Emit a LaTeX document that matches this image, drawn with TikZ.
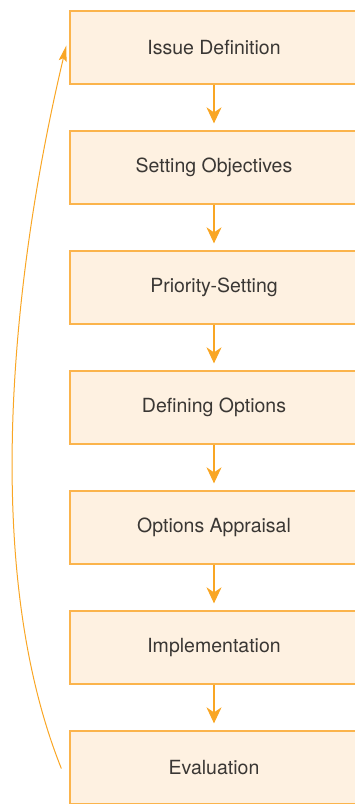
\documentclass[tikz,border=0pt]{standalone}
\usepackage{fontspec}
\setmainfont{TeX Gyre Heros}
\usepackage{tikz}
\usetikzlibrary{positioning,arrows.meta}
\definecolor{boxline}{RGB}{251,180,76}
\definecolor{boxfill}{RGB}{254,241,225}
\definecolor{arrowcol}{RGB}{249,166,36}
\definecolor{textcol}{RGB}{58,55,52}
\tikzset{
mybox/.style={
  draw=boxline,
  fill=boxfill,
  line width=1.3pt,
  minimum width=288pt,
  minimum height=73pt,
  text=textcol,
  font=\fontsize{19.5}{22}\selectfont
},
myarrow/.style={
  draw=arrowcol,
  line width=1.3pt,
  -{Stealth[length=16pt,width=15pt,inset=5pt]},
  shorten >=7pt
}
}

\begin{document}
\begin{tikzpicture}[node distance=45.7pt]
  \useasboundingbox (0,0) rectangle (355pt,-804pt);

  \node[mybox] (issue) at (214pt,-47.5pt) {Issue Definition};
  \node[mybox,below=of issue] (objectives) {Setting Objectives};
  \node[mybox,below=of objectives] (priority) {Priority-Setting};
  \node[mybox,below=of priority] (options) {Defining Options};
  \node[mybox,below=of options] (appraisal) {Options Appraisal};
  \node[mybox,below=of appraisal] (implementation) {Implementation};
  \node[mybox,below=of implementation] (evaluation) {Evaluation};

  \draw[myarrow] (issue) -- (objectives);
  \draw[myarrow] (objectives) -- (priority);
  \draw[myarrow] (priority) -- (options);
  \draw[myarrow] (options) -- (appraisal);
  \draw[myarrow] (appraisal) -- (implementation);
  \draw[myarrow] (implementation) -- (evaluation);

  % feedback loop
  \draw[draw=arrowcol,line width=1pt,-{Stealth[length=16pt,width=8pt,inset=3pt]}]
    ([xshift=-8pt,yshift=-1pt]evaluation.west)
    .. controls +(-84pt,210pt) and +(-50pt,-210pt) ..
    ([xshift=-3pt,yshift=2pt]issue.west);
\end{tikzpicture}
\end{document}
